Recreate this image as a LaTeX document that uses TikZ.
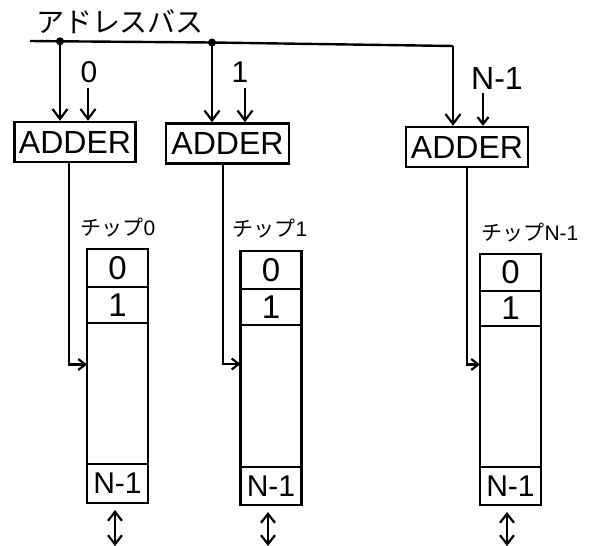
\documentclass[tikz,border=0pt]{standalone}
\usepackage{fontspec}
\setmainfont{Liberation Sans}
\newfontfamily\cjk{Noto Sans CJK JP}
\usetikzlibrary{arrows.meta}
\newcommand\mkchip[7]{% name, cx, top, h0, h1, hmid, hN
  \node[cell,minimum height=#4pt,anchor=north] (#1r0) at (#2,#3) {0};
  \node[cell,minimum height=#5pt,anchor=north] (#1r1) at (#1r0.south) {1};
  \node[cell,minimum height=#6pt,anchor=north] (#1m) at (#1r1.south) {};
  \node[cell,minimum height=#7pt,anchor=north,font=\fontsize{30}{32}\selectfont] (#1rN) at (#1m.south) {N-1};
}
\begin{document}
\begin{tikzpicture}[x=1pt,y=-1pt,line width=2.4pt,
  box/.style={draw,inner sep=0pt,font=\fontsize{32}{34}\selectfont},
  cell/.style={draw,inner sep=0pt,outer sep=0pt,minimum width=61pt,font=\fontsize{33}{35}\selectfont},
  arr/.style={-{Straight Barb[length=10pt,width=15pt,line width=2.2pt]}},
  sarr/.style={-{Straight Barb[length=7pt,width=11pt,line width=2.2pt]}},
  darr/.style={{Straight Barb[length=9pt,width=14pt,line width=2.2pt]}-{Straight Barb[length=9pt,width=14pt,line width=2.2pt]}},
  dot/.style={circle,fill,inner sep=0pt,minimum size=8pt},
  lbl/.style={inner sep=0pt,font=\fontsize{30}{32}\selectfont},
  clbl/.style={inner sep=0pt,font=\fontsize{21}{23}\selectfont}]
\useasboundingbox (0,0) rectangle (595,546);
% title
\node[inner sep=0pt,font=\cjk\fontsize{28}{30}\selectfont] (title) at (120,22) {アドレスバス};
% bus
\coordinate (bl) at (30,41);
\node[dot] (d1) at (60,41.3) {};
\node[dot] (d2) at (212,42.5) {};
\coordinate (c3) at (453,46);
\draw (bl) -- (d1.center) -- (d2.center) -- (c3);
% adders
\node[box,minimum width=121pt,minimum height=40pt] (ad1) at (75,142) {ADDER};
\node[box,minimum width=123pt,minimum height=40pt] (ad2) at (227.5,143.5) {ADDER};
\node[box,minimum width=122pt,minimum height=40pt] (ad3) at (467,147) {ADDER};
% bus to adders
\draw[arr] (d1.center) -- (d1.center |- ad1.north);
\draw[arr] (d2.center) -- (d2.center |- ad2.north);
\draw[arr] (c3) -- (c3 |- ad3.north);
% offset inputs
\node[lbl] (l0) at (89,72) {0};
\node[lbl] (l1) at (240,72) {1};
\node[lbl,font=\fontsize{32}{34}\selectfont] (lN) at (497,78) {N-1};
\draw[arr] ([xshift=-1pt,yshift=-4pt]l0.south) -- ([xshift=-1pt]l0.south |- ad1.north);
\draw[arr] ([xshift=5pt,yshift=-4pt]l1.south) -- ([xshift=5pt]l1.south |- ad2.north);
\draw[sarr] ([xshift=-14pt,yshift=-3pt]lN.south) -- ([xshift=-14pt]lN.south |- ad3.north);
% chips
\mkchip{c1}{117.5}{249}{38}{36}{141}{39}
\mkchip{c2}{271}{251}{38}{36}{142}{38}
\mkchip{c3}{510.5}{254}{37}{35}{141}{38}
% chip labels
\node[clbl,anchor=south] (t1) at (118,238) {{\cjk チップ}0};
\node[clbl,anchor=south] (t2) at (270,239) {{\cjk チップ}1};
\node[clbl,anchor=south] (t3) at (530,243) {{\cjk チップ}N-1};
% adder to chip
\draw[sarr] ([xshift=-6pt]ad1.south) |- ([yshift=29pt]c1m.west);
\draw[sarr] ([xshift=-4.5pt]ad2.south) |- ([yshift=32pt]c2m.west);
\draw[sarr] (ad3.south) |- ([yshift=32pt]c3m.west);
% data lines
\draw[darr] ([xshift=-2.5pt,yshift=-7pt]c1rN.south) -- ([xshift=-2.5pt,yshift=-43pt]c1rN.south);
\draw[darr] ([xshift=-3pt,yshift=-7pt]c2rN.south) -- ([xshift=-3pt,yshift=-41pt]c2rN.south);
\draw[darr] ([xshift=-3.5pt,yshift=-7pt]c3rN.south) -- ([xshift=-3.5pt,yshift=-41pt]c3rN.south);
\end{tikzpicture}
\end{document}
